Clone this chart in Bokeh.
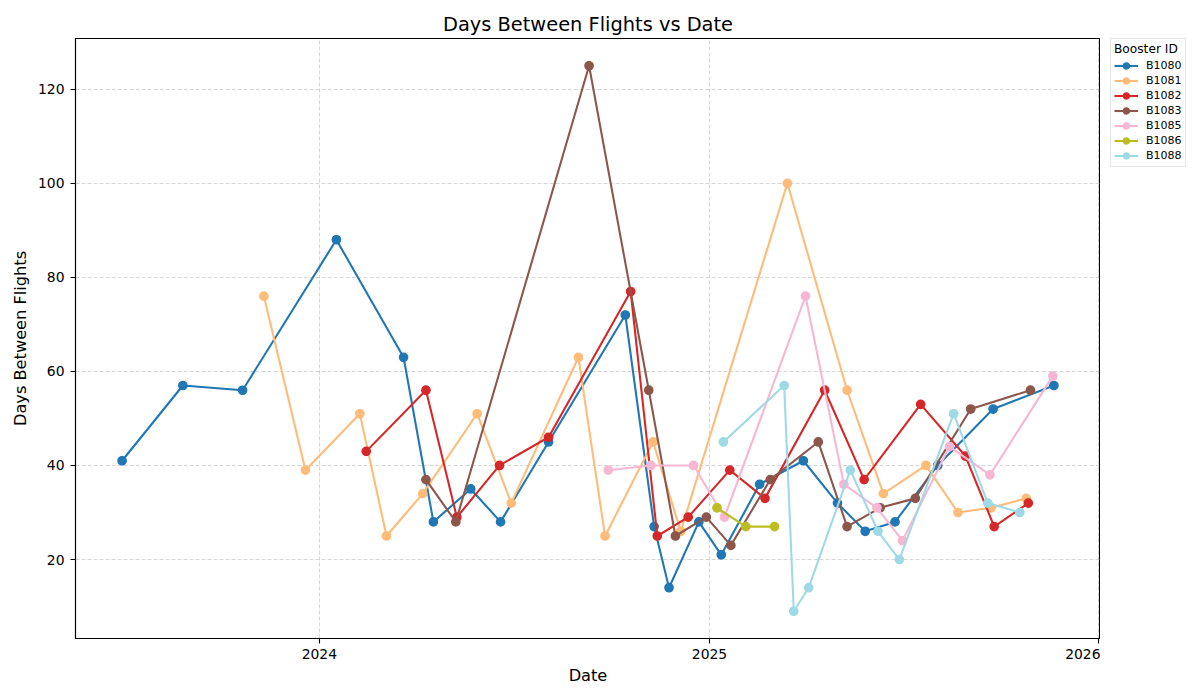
import pandas as pd
from bokeh.plotting import figure
from bokeh.layouts import row
from bokeh.models import (Range1d, FixedTicker, DatetimeTickFormatter, Legend,
                          LegendItem)
from bokeh.embed import file_html
from bokeh.resources import INLINE

# ---------------- data ----------------
boosters = ["B1080", "B1081", "B1082", "B1083", "B1085", "B1086", "B1088"]
colors = ["#1f77b4", "#ffbb78", "#d62728", "#8c564b", "#f7b6d2", "#bcbd22", "#9edae5"]

b1080_dates = ["2023-06-30", "2023-08-26", "2023-10-21", "2024-01-17", "2024-03-20",
               "2024-04-17", "2024-05-22", "2024-06-19", "2024-08-03", "2024-10-14",
               "2024-11-10", "2024-11-24", "2024-12-22", "2025-01-12", "2025-02-17",
               "2025-03-30", "2025-05-01", "2025-05-27", "2025-06-24", "2025-08-03",
               "2025-09-24", "2025-11-20"]
b1080_days = [41, 57, 56, 88, 63, 28, 35, 28, 45, 72, 27, 14, 28, 21, 36, 41, 32, 26,
              28, 40, 52, 57]

b1081_dates = ["2023-11-10", "2023-12-19", "2024-02-08", "2024-03-04", "2024-04-07",
               "2024-05-28", "2024-06-29", "2024-08-31", "2024-09-25", "2024-11-09",
               "2024-12-05", "2025-03-15", "2025-05-10", "2025-06-13", "2025-07-23",
               "2025-08-22", "2025-09-22", "2025-10-25"]
b1081_days = [76, 39, 51, 25, 34, 51, 32, 63, 25, 45, 26, 100, 56, 34, 40, 30, 31, 33]

b1082_dates = ["2024-02-14", "2024-04-10", "2024-05-09", "2024-06-18", "2024-08-03",
               "2024-10-19", "2024-11-13", "2024-12-12", "2025-01-20", "2025-02-22",
               "2025-04-19", "2025-05-26", "2025-07-18", "2025-08-29", "2025-09-25",
               "2025-10-27"]
b1082_days = [43, 56, 29, 40, 46, 77, 25, 29, 39, 33, 56, 37, 53, 42, 27, 32]

b1083_dates = ["2024-04-10", "2024-05-08", "2024-09-10", "2024-11-05", "2024-11-30",
               "2024-12-29", "2025-01-21", "2025-02-27", "2025-04-13", "2025-05-10",
               "2025-06-10", "2025-07-13", "2025-09-03", "2025-10-29"]
b1083_days = [37, 28, 125, 56, 25, 29, 23, 37, 45, 27, 31, 33, 52, 56]

b1085_dates = ["2024-09-28", "2024-11-07", "2024-12-17", "2025-01-15", "2025-04-01",
               "2025-05-07", "2025-06-07", "2025-07-01", "2025-08-14", "2025-09-21",
               "2025-11-19"]
b1085_days = [39, 40, 40, 29, 76, 36, 31, 24, 44, 38, 59]

b1086_dates = ["2025-01-08", "2025-02-04", "2025-03-03"]
b1086_days = [31, 27, 27]

b1088_dates = ["2025-01-14", "2025-03-12", "2025-03-21", "2025-04-04", "2025-05-13",
               "2025-06-08", "2025-06-28", "2025-08-18", "2025-09-19", "2025-10-19"]
b1088_days = [45, 57, 9, 14, 39, 26, 20, 51, 32, 30]

x_tick_dates = ["2024-01-01", "2025-01-01", "2026-01-01"]
x_tick_labels = ["2024", "2025", "2026"]
y_ticks = [20, 40, 60, 80, 100, 120]

series_dates = [b1080_dates, b1081_dates, b1082_dates, b1083_dates, b1085_dates,
                b1086_dates, b1088_dates]
series_days = [b1080_days, b1081_days, b1082_days, b1083_days, b1085_days,
               b1086_days, b1088_days]

# ---------------- ranges (matplotlib-like 5% margins) ----------------
all_x = pd.to_datetime([d for s in series_dates for d in s])
all_y = [v for s in series_days for v in s]
xpad = (all_x.max() - all_x.min()) * 0.05
ypad = (max(all_y) - min(all_y)) * 0.05
x_range = Range1d((all_x.min() - xpad).to_pydatetime(), (all_x.max() + xpad).to_pydatetime())
y_range = Range1d(min(all_y) - ypad, max(all_y) + ypad)

FONT = "DejaVu Sans"

p = figure(x_axis_type="datetime", width=1100, height=700,
           min_border_left=75, min_border_right=0, min_border_top=38,
           min_border_bottom=62, x_range=x_range, y_range=y_range,
           output_backend="svg", toolbar_location=None,
           title="Days Between Flights vs Date")

p.title.text_font = FONT
p.title.text_font_size = "19.4px"
p.title.text_font_style = "normal"
p.title.text_color = "black"
p.title.align = "center"
p.title.standoff = 5

p.outline_line_color = "black"
p.outline_line_width = 1.1
p.background_fill_color = "white"
p.border_fill_color = "white"

tick_ms = [pd.Timestamp(d).value / 1e6 for d in x_tick_dates]
p.xaxis.ticker = FixedTicker(ticks=tick_ms)
p.xaxis.major_label_overrides = {t: lab for t, lab in zip(tick_ms, x_tick_labels)}
p.xaxis.formatter = DatetimeTickFormatter(years="%Y", months="%Y", days="%Y")
p.yaxis.ticker = FixedTicker(ticks=y_ticks)

p.xaxis.axis_label = "Date"
p.yaxis.axis_label = "Days Between Flights"
for ax in [p.xaxis[0], p.yaxis[0]]:
    ax.axis_label_text_font = FONT
    ax.axis_label_text_font_size = "16.2px"
    ax.axis_label_text_font_style = "normal"
    ax.axis_label_text_color = "black"
    ax.major_label_text_font = FONT
    ax.major_label_text_font_size = "13.9px"
    ax.major_label_text_color = "black"
    ax.major_tick_out = 5
    ax.major_tick_in = 0
    ax.minor_tick_out = 0
    ax.minor_tick_in = 0
    ax.axis_line_color = "black"
    ax.axis_line_width = 1.1
    ax.major_tick_line_color = "black"
    ax.major_tick_line_width = 1.1
p.xaxis.major_label_standoff = 5
p.xaxis.axis_label_standoff = 4
p.yaxis.major_label_standoff = 6
p.yaxis.axis_label_standoff = 5

for g in [p.xgrid[0], p.ygrid[0]]:
    g.grid_line_color = "#b0b0b0"
    g.grid_line_alpha = 0.5
    g.grid_line_dash = "4 2"
    g.grid_line_width = 1.1

# side figure that only carries the legend (to the right of the main frame)
side = figure(width=100, height=700, min_border=0, x_axis_location=None,
              y_axis_location=None, toolbar_location=None, output_backend="svg",
              x_range=Range1d(0, 1), y_range=Range1d(0, 1))
side.outline_line_color = None
side.xgrid.visible = False
side.ygrid.visible = False
side.background_fill_color = "white"
side.border_fill_color = "white"

items = []
for name, col, ds, vs in zip(boosters, colors, series_dates, series_days):
    xs = pd.to_datetime(ds)
    p.line(xs, vs, line_color=col, line_width=2.08)
    p.scatter(xs, vs, marker="circle", size=8.3, fill_color=col,
              line_color=col, line_width=1.4)
    # proxies kept outside the side panel's visible range: they only feed the legend
    lr = side.line(x=[-5, -4], y=[-5, -4], line_color=col, line_width=2.08)
    sr = side.scatter(x=[-5], y=[-5], marker="circle", size=8.3, fill_color=col,
                      line_color=col, line_width=1.4)
    items.append(LegendItem(label=name, renderers=[lr, sr]))

legend = Legend(items=items, title="Booster ID", location=(10, 471), margin=0,
                padding=3, spacing=0, glyph_width=24, glyph_height=15,
                label_height=15, label_standoff=8, title_standoff=2)
legend.title_text_font = FONT
legend.title_text_font_size = "12.2px"
legend.title_text_font_style = "normal"
legend.title_text_color = "black"
legend.label_text_font = FONT
legend.label_text_font_size = "11px"
legend.label_text_color = "black"
legend.border_line_color = "#cccccc"
legend.border_line_width = 1
legend.background_fill_alpha = 0.8
side.add_layout(legend)

layout = row(p, side, spacing=0)
open("out.html", "w").write(file_html(layout, INLINE))
